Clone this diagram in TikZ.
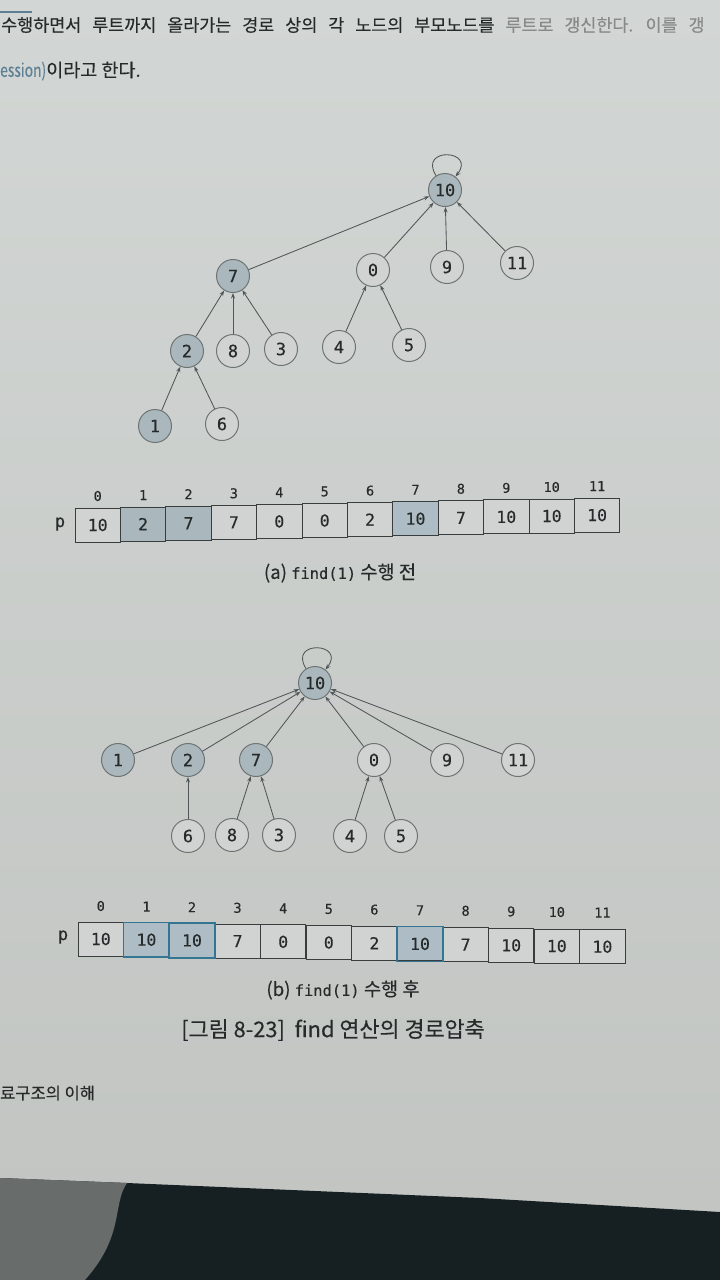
\documentclass[tikz,border=0pt]{standalone}
\usepackage{fontspec}
\setmainfont{Noto Sans CJK KR}[FakeBold=0.25]
\setmonofont{DejaVu Sans Mono}[FakeBold=0.35]
\usepackage{xcolor}
\usepackage{graphicx}
\usepackage{tikz}
\usetikzlibrary{arrows.meta}
\definecolor{paperTop}{RGB}{210,214,212}
\definecolor{paperBot}{RGB}{193,196,193}
\definecolor{plain}{RGB}{208,211,209}
\definecolor{shade}{RGB}{170,183,188}
\definecolor{shadeB}{RGB}{174,189,197}
\definecolor{rim}{RGB}{110,116,116}
\definecolor{wire}{RGB}{80,86,88}
\definecolor{edge}{RGB}{58,61,61}
\definecolor{ink}{RGB}{38,42,42}
\definecolor{blueline}{RGB}{52,118,145}
\definecolor{blueword}{RGB}{95,128,148}
\definecolor{desk}{RGB}{22,32,35}
\definecolor{patch}{RGB}{104,109,107}
\newcommand{\codefn}[1]{{\fontsize{15.4}{15.4}\selectfont\ttfamily #1}}

\begin{document}
\begin{tikzpicture}[x=1pt,y=-1pt,
  vtx/.style={circle,draw=rim,fill=plain,line width=1pt,minimum size=33pt,inner sep=0pt,text=ink,font=\fontsize{17}{17}\selectfont\ttfamily},
  pvtx/.style={vtx,fill=shade},
  arr/.style={-{Stealth[length=5.5pt,width=4pt]},draw=wire,line width=0.85pt},
  cell/.style={rectangle,draw=edge,fill=plain,line width=0.9pt,minimum width=45.4pt,minimum height=34pt,inner sep=0pt,text=ink,font=\fontsize{16.5}{16.5}\selectfont\ttfamily},
  scell/.style={cell,fill=shade},
  bcell/.style={cell,fill=shadeB},
  hl/.style={draw=blueline,line width=1.4pt},
  idx/.style={text=ink,font=\fontsize{13.5}{13.5}\selectfont\ttfamily},
  captxt/.style={text=ink,font=\fontsize{18.7}{18.7}\selectfont}]
\useasboundingbox (0,0) rectangle (720,1280);
\clip (0,0) rectangle (720,1280);
\shade[top color=paperTop,bottom color=paperBot] (0,0) rectangle (720,1280);

\draw[line width=2pt,blueword] (0,12) -- (32,12);
\node[anchor=west,inner sep=0pt,text=ink,font=\fontsize{17.4}{17.4}\selectfont] (Line1) at (1,25) {\spaceskip=11pt 수행하면서 루트까지 올라가는 경로 상의 각 노드의 부모노드를 \textcolor{ink!55}{루트로 갱신한다. 이를 갱}};
\node[anchor=west,inner sep=0pt,text=ink,font=\fontsize{18.5}{18.5}\selectfont] (Line2) at (0,71) {\textcolor{blueword}{\scalebox{0.75}[1]{ession)}}이라고 한다.};

\foreach \n/\x/\y/\s in {10/445/190/pvtx,7/233/276/pvtx,0/373/270/vtx,9/447/267/vtx,11/517/263/vtx,2/187/351/pvtx,8/233/351/vtx,3/281/349/vtx,4/339/347/vtx,5/409/345/vtx,1/155/426/pvtx,6/222/424/vtx}
  \node[\s] (a\n) at (\x,\y) {\n};
\draw[arr] (a10) to[out=122,in=52,looseness=4.5] (a10);
\foreach \c/\p in {a7/a10,a0/a10,a9/a10,a11/a10,a2/a7,a8/a7,a3/a7,a4/a0,a5/a0,a1/a2,a6/a2}
  \draw[arr] (\c) -- (\p);

\node[text=ink,font=\fontsize{17}{17}\selectfont\ttfamily] (Pa) at (60,524) {p};
\foreach \i/\v/\s in {0/10/cell,1/2/scell,2/7/scell,3/7/cell,4/0/cell,5/0/cell,6/2/cell,7/10/bcell,8/7/cell,9/10/cell,10/10/cell,11/10/cell}{
  \node[\s] (pa\i) at ({97.7+45.4*\i},{525-0.9*\i}) {\v};
  \node[idx] (ia\i) at ({97.7+45.4*\i},{496-0.9*\i}) {\i};
}
\node[captxt] (CapA) at (340,573) {(a) \codefn{find(1)} 수행 전};

\foreach \n/\x/\y/\s in {10/315/683/pvtx,1/118/760/pvtx,2/188/760/pvtx,7/256/760/pvtx,0/374/760/vtx,9/447/760/vtx,11/518/760/vtx,6/188/836/vtx,8/232/835/vtx,3/279/835/vtx,4/350/836/vtx,5/401/836/vtx}
  \node[\s] (b\n) at (\x,\y) {\n};
\draw[arr] (b10) to[out=122,in=52,looseness=4.5] (b10);
\foreach \c/\p in {b1/b10,b2/b10,b7/b10,b0/b10,b9/b10,b11/b10,b6/b2,b8/b7,b3/b7,b4/b0,b5/b0}
  \draw[arr] (\c) -- (\p);

\node[text=ink,font=\fontsize{17}{17}\selectfont\ttfamily] (Pb) at (63,937) {p};
\foreach \i/\v/\s in {0/10/cell,1/10/bcell,2/10/bcell,3/7/cell,4/0/cell,5/0/cell,6/2/cell,7/10/bcell,8/7/cell,9/10/cell,10/10/cell,11/10/cell}{
  \node[\s] (pb\i) at ({100.8+45.6*\i},{939+0.7*\i}) {\v};
  \node[idx] (ib\i) at ({100.8+45.6*\i},{906+0.6*\i}) {\i};
}
\foreach \i in {1,2,7}
  \draw[hl] (pb\i.north west) rectangle (pb\i.south east);
\node[captxt] (CapB) at (343,990) {(b) \codefn{find(1)} 수행 후};
\node[text=ink,font=\fontsize{21.8}{21.8}\selectfont] (Fig) at (333,1030) {[그림 8-23]\ \ find 연산의 경로압축};

\node[anchor=west,inner sep=0pt,text=ink,font=\fontsize{16.5}{16.5}\selectfont] (Foot) at (0,1093) {료구조의 이해};

\fill[desk] (0,1178) -- (127,1183) -- (480,1198) -- (720,1212) -- (720,1280) -- (0,1280) -- cycle;
\fill[patch] (0,1178) -- (127,1183) .. controls (112,1205) and (125,1235) .. (85,1280) -- (0,1280) -- cycle;
\end{tikzpicture}
\end{document}
